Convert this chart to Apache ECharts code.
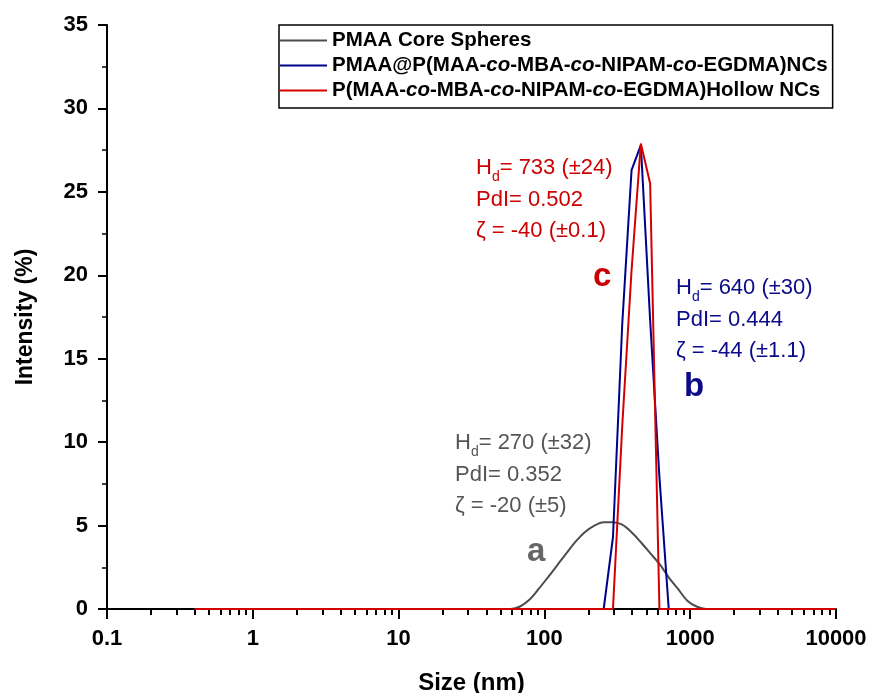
<!DOCTYPE html>
<html>
<head>
<meta charset="utf-8">
<script src="https://cdn.jsdelivr.net/npm/echarts@6/dist/echarts.min.js"></script>
<style>
  html, body { margin: 0; padding: 0; background: #fff; }
  #chart { width: 871px; height: 693px; }
</style>
</head>
<body>
<div id="chart"></div>
<script>
// DLS size bins (nm) and intensity (%) for each sample
var sizes = [0.4, 50.75, 58.77, 68.06, 78.82, 91.28, 105.7, 122.4, 141.8, 164.2, 190.1, 220.2, 255.0,
             295.3, 342.0, 396.1, 458.7, 531.2, 615.1, 712.4, 825.0, 955.4, 1106, 1281, 1484, 10000];
var coreSpheres = [0, 0, 0, 0.15, 0.55, 1.2, 1.9, 2.62, 3.35, 4.05, 4.62, 5.0, 5.2,
                   5.2, 5.05, 4.6, 4.0, 3.35, 2.7, 1.9, 1.2, 0.5, 0.15, 0, 0, 0];
var coreShell   = [0, 0, 0, 0, 0, 0, 0, 0, 0, 0, 0, 0, 0,
                   4.3, 17.1, 26.3, 27.8, 17.3, 7.9, 0, 0, 0, 0, 0, 0, 0];
var hollow      = [0, 0, 0, 0, 0, 0, 0, 0, 0, 0, 0, 0, 0,
                   0, 11.0, 20.3, 27.9, 25.5, 0, 0, 0, 0, 0, 0, 0, 0];

var seriesNames = ['PMAA Core Spheres',
                   'PMAA@P(MAA-co-MBA-co-NIPAM-co-EGDMA)NCs',
                   'P(MAA-co-MBA-co-NIPAM-co-EGDMA)Hollow NCs'];
var colors = ['#4d4d4d', '#00008b', '#d40000'];
var smoothing = [0.3, 0, 0];

// minor ticks of the log axis (2..9 in every decade), on a log10 helper axis
var minorTickPos = [];
for (var d = -1; d < 4; d++) {
  for (var k = 2; k <= 9; k++) minorTickPos.push(d + Math.log10(k));
}

var FONT = 'Liberation Sans, Arial, sans-serif';

function pairs(ys) {
  return sizes.map(function (s, i) { return [s, ys[i]]; });
}

function note(x, y, color, hd, pdi, zeta) {
  return {
    type: 'text', left: x, top: y, z: 10,
    style: {
      text: '{t|H}{s|d}{t|= ' + hd + '}\n{t|PdI= ' + pdi + '}\n{t|ζ = ' + zeta + '}',
      fill: color,
      rich: {
        t: { fontFamily: FONT, fontSize: 22, lineHeight: 31.5, color: color },
        s: { fontFamily: FONT, fontSize: 14, lineHeight: 14, verticalAlign: 'bottom', color: color }
      }
    }
  };
}

function letter(x, y, color, ch) {
  return {
    type: 'text', left: x, top: y, z: 10,
    style: { text: ch, fill: color, font: 'bold 33px ' + FONT }
  };
}

var chart = echarts.init(document.getElementById('chart'));

var option = {
  animation: false,
  backgroundColor: '#fff',
  grid: { left: 107, right: 35, top: 25, bottom: 84, containLabel: false, outerBoundsMode: 'none' },
  legend: {
    orient: 'vertical',
    left: 279,
    top: 25,
    padding: [5, 5, 7, 1],
    itemGap: 4,
    itemWidth: 47,
    itemHeight: 2,
    icon: 'rect',
    borderColor: '#000',
    borderWidth: 1.5,
    backgroundColor: '#fff',
    data: seriesNames,
    textStyle: {
      fontFamily: FONT, fontSize: 20.5, fontWeight: 'bold', color: '#000',
      rich: { i: { fontFamily: FONT, fontSize: 20.5, fontWeight: 'bold', fontStyle: 'italic', color: '#000' } }
    },
    formatter: function (name) { return name.replace(/-co-/g, '-{i|co}-'); }
  },
  xAxis: [{
    type: 'log',
    logBase: 10,
    min: 0.1,
    max: 10000,
    position: 'bottom',
    name: 'Size (nm)',
    nameLocation: 'middle',
    nameGap: 62,
    nameTextStyle: { fontFamily: FONT, fontSize: 24, fontWeight: 'bold', color: '#000' },
    axisLine: { onZero: false, lineStyle: { color: '#000', width: 2 } },
    axisTick: { length: 10, lineStyle: { color: '#000', width: 2 } },
    axisLabel: {
      fontFamily: FONT, fontSize: 22, fontWeight: 'bold', color: '#000', margin: 19,
      formatter: function (v) { return String(v); }
    },
    splitLine: { show: false }
  }, {
    type: 'value',
    min: -1,
    max: 4,
    position: 'bottom',
    axisLine: { show: false, onZero: false },
    axisLabel: { show: false },
    axisTick: { customValues: minorTickPos, length: 6, lineStyle: { color: '#000', width: 2 } },
    splitLine: { show: false }
  }],
  yAxis: {
    type: 'value',
    min: 0,
    max: 35,
    interval: 5,
    name: 'Intensity (%)',
    nameLocation: 'middle',
    nameGap: 70,
    nameRotate: 90,
    nameTextStyle: { fontFamily: FONT, fontSize: 23, fontWeight: 'bold', color: '#000' },
    axisLine: { show: true, onZero: false, lineStyle: { color: '#000', width: 2 } },
    axisTick: { show: true, length: 9, lineStyle: { color: '#000', width: 2 } },
    minorTick: { show: true, splitNumber: 2, length: 5, lineStyle: { color: '#000', width: 1.5 } },
    axisLabel: { fontFamily: FONT, fontSize: 22, fontWeight: 'bold', color: '#000', margin: 19 },
    splitLine: { show: false }
  },
  series: [coreSpheres, coreShell, hollow].map(function (ys, i) {
    return {
      name: seriesNames[i],
      type: 'line',
      xAxisIndex: 0,
      data: pairs(ys),
      symbol: 'none',
      smooth: smoothing[i],
      color: colors[i],
      lineStyle: { color: colors[i], width: 2 }
    };
  }),
  graphic: [
    note(476, 157, '#cc0000', '733 (±24)', '0.502', '-40 (±0.1)'),
    note(676, 277, '#0a0a8a', '640 (±30)', '0.444', '-44 (±1.1)'),
    note(455, 432, '#555555', '270 (±32)', '0.352', '-20 (±5)'),
    letter(593, 260, '#cc0000', 'c'),
    letter(684, 370, '#0a0a8a', 'b'),
    letter(527, 535, '#666666', 'a')
  ]
};

chart.setOption(option);
</script>
</body>
</html>
